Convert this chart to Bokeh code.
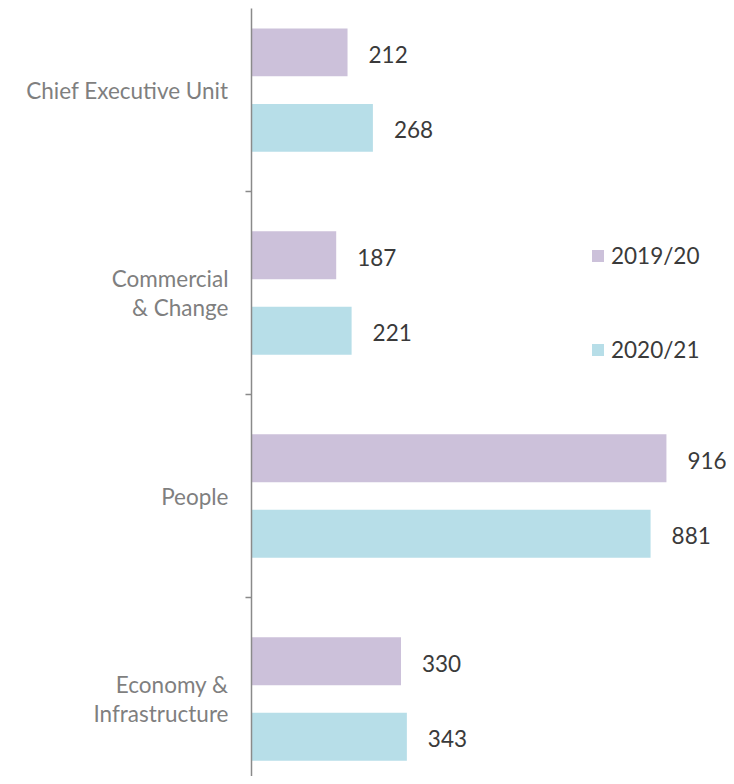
from bokeh.plotting import figure
from bokeh.models import ColumnDataSource, FixedTicker, LabelSet, Legend, LegendItem
from bokeh.transform import dodge
from bokeh.core.properties import value
from bokeh.embed import file_html
from bokeh.resources import INLINE

categories = ["Chief Executive Unit", "Commercial\n& Change", "People", "Economy &\nInfrastructure"]
years = ["2019/20", "2020/21"]
v2019 = [212, 187, 916, 330]
v2020 = [268, 221, 881, 343]
colors = ["#CCC1DA", "#B7DEE8"]

n = len(categories)
ypos = [n - 1 - i for i in range(n)]

src = ColumnDataSource(dict(
    y=ypos, cat=categories, a=v2019, b=v2020,
    at=[str(v) for v in v2019], bt=[str(v) for v in v2020],
))

FONT = "Lato"
FS = "22.5px"

p = figure(width=726, height=776, output_backend="svg", toolbar_location=None,
           x_range=(0, 1048.6), y_range=(-0.382, 3.402),
           x_axis_location=None, min_border_left=251, min_border_right=0,
           min_border_top=8, min_border_bottom=0, outline_line_color=None)
p.grid.visible = False

off = 0.186
hh = 0.236
r1 = p.hbar(y=dodge("y", off, range=p.y_range), right="a", left=0, height=hh,
            source=src, fill_color=colors[0], line_color=None)
r2 = p.hbar(y=dodge("y", -off, range=p.y_range), right="b", left=0, height=hh,
            source=src, fill_color=colors[1], line_color=None)

for col, o in (("at", off), ("bt", -off)):
    p.add_layout(LabelSet(x=col[0], y=dodge("y", o, range=p.y_range), text=col, source=src,
                          x_offset=21, y_offset=-2, text_align="left", text_baseline="middle",
                          text_font=value(FONT), text_font_size=FS, text_color="#3a3a3a"))

ax = p.yaxis[0]
ax.ticker = FixedTicker(ticks=ypos, minor_ticks=[y + 0.5 for y in range(-1, n)])
ax.major_label_overrides = {y: c for y, c in zip(ypos, categories)}
ax.major_tick_line_color = None
ax.major_tick_out = 0
ax.major_tick_in = 0
ax.minor_tick_out = 6
ax.minor_tick_in = 0
ax.minor_tick_line_color = "#8a8a8a"
ax.axis_line_color = "#8a8a8a"
ax.axis_line_width = 1.5
ax.minor_tick_line_width = 1.5
ax.major_label_standoff = 17
ax.major_label_text_font = FONT
ax.major_label_text_font_size = FS
ax.major_label_text_color = "#7f7f7f"
ax.major_label_text_align = "center"
ax.major_label_text_line_height = 1.05

legend = Legend(items=[LegendItem(label=years[0], renderers=[r1]),
                       LegendItem(label=years[1], renderers=[r2])],
                location=(339, 413), glyph_width=15, glyph_height=15, label_standoff=6,
                spacing=67, padding=0, margin=0, border_line_color=None,
                background_fill_alpha=0, label_text_font=FONT,
                label_text_font_size=FS, label_text_color="#3a3a3a")
p.add_layout(legend, "center")

open("out.html", "w").write(file_html(p, INLINE))
